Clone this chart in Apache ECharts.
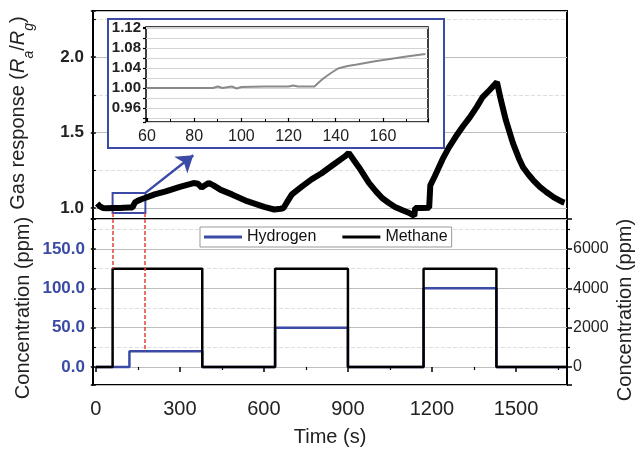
<!DOCTYPE html>
<html>
<head>
<meta charset="utf-8">
<script src="https://cdn.jsdelivr.net/npm/echarts@6/dist/echarts.min.js"></script>
<style>
html, body { margin: 0; padding: 0; background: #fff; }
#chart { width: 636px; height: 452px; }
</style>
</head>
<body>
<div id="chart"></div>
<script>
// gas response curve (time in s, Ra/Rg)
var respTime = [5, 15, 25, 40, 60, 88, 100, 120, 131, 135, 141, 149, 156, 163, 170, 178, 210, 250, 300, 349, 365, 378, 390, 403, 420, 446, 486, 540, 601, 637, 660, 670, 683, 700, 734, 770, 806, 850, 888, 903, 920, 939, 975, 1000, 1022, 1045, 1068, 1095, 1119, 1137, 1140, 1165, 1190, 1194, 1210, 1237, 1260, 1284, 1310, 1335, 1360, 1381, 1405, 1432, 1446, 1464, 1489, 1510, 1525, 1545, 1561, 1585, 1608, 1635, 1665, 1673];
var respValue = [1.03, 1.01, 1.0, 0.998, 1.0, 1.0, 1.002, 1.003, 1.003, 1.02, 1.039, 1.047, 1.053, 1.058, 1.063, 1.068, 1.09, 1.11, 1.14, 1.165, 1.16, 1.135, 1.15, 1.166, 1.15, 1.12, 1.09, 1.045, 1.007, 0.99, 0.995, 1.0, 1.04, 1.09, 1.14, 1.19, 1.23, 1.29, 1.34, 1.365, 1.32, 1.27, 1.166, 1.11, 1.066, 1.035, 1.007, 0.985, 0.967, 0.947, 1.0, 1.0, 1.002, 1.15, 1.21, 1.32, 1.40, 1.47, 1.54, 1.60, 1.67, 1.735, 1.78, 1.834, 1.715, 1.58, 1.43, 1.33, 1.27, 1.22, 1.185, 1.14, 1.106, 1.07, 1.04, 1.035];

// inset (zoom of 60-178 s)
var zoomTime = [60, 70, 80, 88, 90, 92, 96, 98, 100, 110, 120, 122, 124, 131, 133, 135, 138, 141, 145, 149, 156, 163, 170, 178];
var zoomValue = [1.0, 1.0, 1.0, 1.0, 1.003, 1.0, 1.003, 0.999, 1.002, 1.003, 1.003, 1.005, 1.003, 1.003, 1.012, 1.02, 1.03, 1.039, 1.044, 1.047, 1.053, 1.058, 1.063, 1.068];

// gas concentration steps
var h2Time = [0, 120, 380, 640, 900, 1170, 1430, 1682];
var h2Conc = [0, 20, 0, 50, 0, 100, 0, 0];
var ch4Time = [0, 60, 380, 640, 900, 1170, 1430, 1682];
var ch4Conc = [0, 5000, 0, 5000, 0, 5000, 0, 0];

// tick labels
var respTicks = [1.0, 1.5, 2.0];
var h2Ticks = [0, 50, 100, 150];
var ch4Ticks = [0, 2000, 4000, 6000];
var timeTicks = [0, 300, 600, 900, 1200, 1500];
var zoomTimeTicks = [60, 80, 100, 120, 140, 160];
var zoomRespTicks = [0.96, 1.00, 1.04, 1.08, 1.12];

function pairs(xs, ys) {
    return xs.map(function (x, i) { return [x, ys[i]]; });
}
function pick(ticks, digits) {
    return function (v) {
        for (var i = 0; i < ticks.length; i++) {
            if (Math.abs(v - ticks[i]) < 1e-6) return ticks[i].toFixed(digits);
        }
        return '';
    };
}

var font = 'Liberation Sans, Arial, sans-serif';
var blue = '#3b4ba5';
var red = '#e8403a';
var tMin = -10, tMax = 1682;
var rMin = 0.927, rMax = 2.305;
var hMin = -22.9, hMax = 188.1;

var solidLine = { show: true, lineStyle: { color: '#bdbdbd', width: 1 } };
var dashLine = { show: true, lineStyle: { color: '#dedede', width: 1, type: 'dashed' } };
var tick = { show: true, length: 5, lineStyle: { color: '#000', width: 1.5 } };
var minor = { show: true, splitNumber: 2, length: 3, lineStyle: { color: '#000', width: 1.2 } };

var myChart = echarts.init(document.getElementById('chart'));
var option = {
    animation: false,
    legend: {
        data: ['Hydrogen', 'Methane'],
        left: 200, top: 227,
        icon: 'rect', itemWidth: 38, itemHeight: 3, itemGap: 26,
        padding: [2, 4, 2, 4],
        borderColor: '#999', borderWidth: 1, backgroundColor: '#fff',
        textStyle: { fontSize: 16, fontFamily: font, color: '#111' }
    },
    grid: [
        { left: 93, top: 11, width: 474, height: 208, show: true, borderColor: '#000', borderWidth: 2, outerBoundsMode: 'none' },
        { left: 93, top: 219, width: 474, height: 166, show: true, borderColor: '#000', borderWidth: 2, outerBoundsMode: 'none' },
        { left: 146, top: 27, width: 282, height: 95, show: true, borderColor: '#000', borderWidth: 1.5, backgroundColor: '#fff', z: 60, outerBoundsMode: 'none' }
    ],
    xAxis: [
        { gridIndex: 0, type: 'value', min: tMin, max: tMax, show: false },
        {
            gridIndex: 1, type: 'value', min: tMin, max: tMax, splitNumber: 6,
            axisLine: { show: false }, axisTick: tick, minorTick: minor,
            splitLine: { show: false },
            axisLabel: { formatter: pick(timeTicks, 0), fontSize: 20, fontFamily: font, color: '#222', margin: 14 },
            name: 'Time (s)', nameLocation: 'middle', nameGap: 42,
            nameTextStyle: { fontSize: 20, fontFamily: font, color: '#222' }
        },
        {
            gridIndex: 2, type: 'value', min: 59.6, max: 179.1, splitNumber: 6, z: 61,
            axisLine: { show: false },
            axisTick: { show: true, inside: true, length: 4, lineStyle: { color: '#000', width: 1.2 } },
            minorTick: { show: true, splitNumber: 2, length: 3, lineStyle: { color: '#000', width: 1 } },
            splitLine: { show: false },
            axisLabel: { formatter: pick(zoomTimeTicks, 0), fontSize: 16, fontFamily: font, color: '#222', margin: 7 }
        }
    ],
    yAxis: [
        {
            gridIndex: 0, type: 'value', min: rMin, max: rMax, splitNumber: 3,
            axisLine: { show: false }, axisTick: tick, minorTick: minor,
            splitLine: solidLine, minorSplitLine: dashLine,
            axisLabel: { formatter: pick(respTicks, 1), fontSize: 17, fontWeight: 'bold', fontFamily: font, color: '#222', margin: 9 }
        },
        {
            gridIndex: 1, type: 'value', min: hMin, max: hMax, splitNumber: 4,
            axisLine: { show: false }, axisTick: tick, minorTick: minor,
            splitLine: solidLine, minorSplitLine: dashLine,
            axisLabel: { formatter: pick(h2Ticks, 1), fontSize: 17, fontWeight: 'bold', fontFamily: font, color: blue, margin: 8 }
        },
        {
            gridIndex: 1, type: 'value', position: 'right', min: hMin * 40, max: hMax * 40, splitNumber: 4,
            axisLine: { show: false }, axisTick: tick, minorTick: minor,
            splitLine: { show: false },
            axisLabel: { formatter: pick(ch4Ticks, 0), fontSize: 16, fontFamily: font, color: '#222', margin: 6 }
        },
        {
            gridIndex: 2, type: 'value', min: 0.932, max: 1.122, splitNumber: 10, z: 61,
            axisLine: { show: false },
            axisTick: { show: true, length: 3, lineStyle: { color: '#000', width: 1.2 } },
            splitLine: { show: true, lineStyle: { color: '#d4d4d4', width: 1 } },
            axisLabel: { formatter: pick(zoomRespTicks, 2), fontSize: 15, fontWeight: 'bold', fontFamily: font, color: '#222', margin: 5 }
        }
    ],
    series: [
        {
            name: 'Response', type: 'line', xAxisIndex: 0, yAxisIndex: 0,
            data: pairs(respTime, respValue),
            showSymbol: false, z: 3,
            lineStyle: { color: '#000', width: 6 },
            itemStyle: { color: '#000' },
            markArea: {
                silent: true,
                itemStyle: { color: 'rgba(0,0,0,0)', borderColor: blue, borderWidth: 2 },
                data: [[{ coord: [60, 0.967] }, { coord: [177, 1.10] }]]
            },
            markLine: {
                silent: true, symbol: ['none', 'arrow'], symbolSize: 16,
                label: { show: false },
                lineStyle: { color: blue, width: 2.5, type: 'solid' },
                data: [
                    [{ coord: [177, 1.10] }, { coord: [348, 1.35] }],
                    [{ coord: [60, 0.967], lineStyle: { color: red, width: 1.5, type: [4, 2] } }, { coord: [60, rMin], symbol: 'none' }],
                    [{ coord: [174, 0.967], lineStyle: { color: red, width: 1.5, type: [4, 2] } }, { coord: [174, rMin], symbol: 'none' }]
                ]
            }
        },
        {
            name: 'Zoom', type: 'line', xAxisIndex: 2, yAxisIndex: 3,
            data: pairs(zoomTime, zoomValue), z: 62,
            showSymbol: false,
            lineStyle: { color: '#8a8a8a', width: 2 },
            itemStyle: { color: '#8a8a8a' }
        },
        {
            name: 'Hydrogen', type: 'line', xAxisIndex: 1, yAxisIndex: 1, step: 'end',
            data: pairs(h2Time, h2Conc), showSymbol: false, z: 3,
            lineStyle: { color: blue, width: 2.5 }, itemStyle: { color: blue },
            markLine: {
                silent: true, symbol: ['none', 'none'],
                label: { show: false },
                lineStyle: { color: red, width: 1.5, type: [4, 2] },
                data: [
                    [{ coord: [60, hMax] }, { coord: [60, 125] }],
                    [{ coord: [174, hMax] }, { coord: [174, 20] }]
                ]
            }
        },
        {
            name: 'Methane', type: 'line', xAxisIndex: 1, yAxisIndex: 2, step: 'end',
            data: pairs(ch4Time, ch4Conc), showSymbol: false, z: 4,
            lineStyle: { color: '#000', width: 2.5 }, itemStyle: { color: '#000' }
        }
    ],
    graphic: {
        elements: [
            {
                type: 'rect', z: 50, silent: true,
                shape: { x: 108, y: 19, width: 336, height: 129 },
                style: { fill: '#fff', stroke: blue, lineWidth: 2 }
            },
            {
                type: 'text', z: 100, x: 22, y: 113, rotation: Math.PI / 2,
                style: {
                    text: '{n|Gas response (}{i|R}{s|a}{n|/}{i|R}{s|g}{n|)}',
                    align: 'center', verticalAlign: 'middle',
                    textAlign: 'center', textVerticalAlign: 'middle',
                    fill: '#222',
                    rich: {
                        n: { fontSize: 20, fontFamily: font, lineHeight: 28, verticalAlign: 'top', fill: '#222' },
                        i: { fontSize: 20, fontFamily: font, fontStyle: 'italic', lineHeight: 28, verticalAlign: 'top', fill: '#222' },
                        s: { fontSize: 14, fontFamily: font, fontStyle: 'italic', lineHeight: 14, verticalAlign: 'bottom', fill: '#222' }
                    }
                }
            },
            {
                type: 'text', z: 100, x: 23, y: 308, rotation: Math.PI / 2,
                style: {
                    text: 'Concentration (ppm)', fontSize: 20, fontFamily: font, fill: '#222',
                    align: 'center', verticalAlign: 'middle', textAlign: 'center', textVerticalAlign: 'middle'
                }
            },
            {
                type: 'text', z: 100, x: 625, y: 310, rotation: Math.PI / 2,
                style: {
                    text: 'Concentration (ppm)', fontSize: 20, fontFamily: font, fill: '#222',
                    align: 'center', verticalAlign: 'middle', textAlign: 'center', textVerticalAlign: 'middle'
                }
            }
        ]
    }
};
myChart.setOption(option);
</script>
</body>
</html>
